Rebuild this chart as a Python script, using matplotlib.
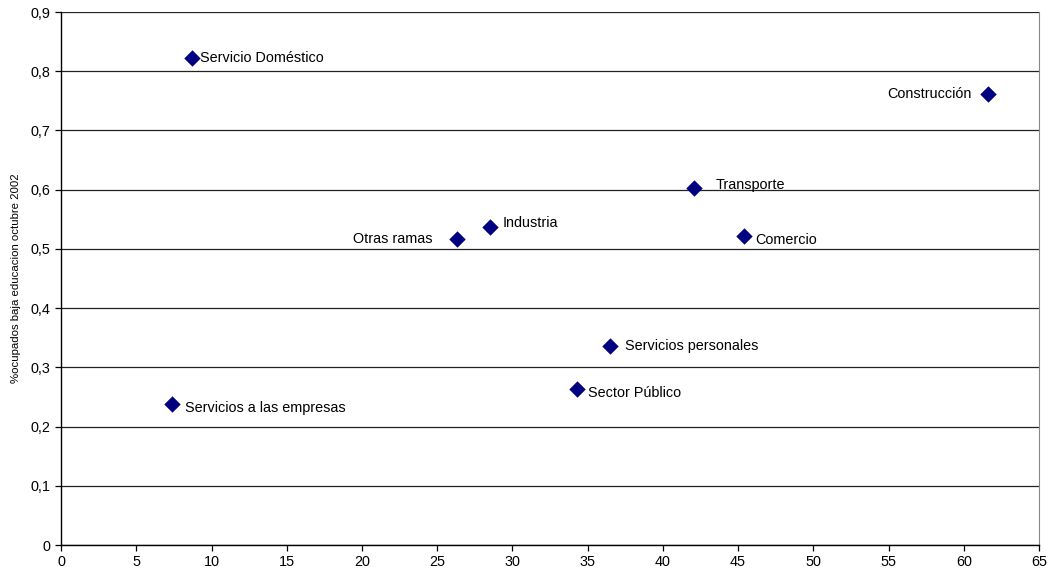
import matplotlib
matplotlib.use("Agg")
import matplotlib.pyplot as plt
from matplotlib.ticker import FuncFormatter, MultipleLocator

plt.rcParams['font.family'] = ['Liberation Sans', 'DejaVu Sans']

# Sector data: share of employment (x) vs share of low-education workers (y)
sectors = ["Servicio Doméstico", "Construcción", "Transporte", "Industria",
           "Otras ramas", "Comercio", "Servicios personales", "Sector Público",
           "Servicios a las empresas"]
x_vals = [8.7, 61.6, 42.1, 28.5, 26.3, 45.4, 36.5, 34.3, 7.4]
y_vals = [0.822, 0.762, 0.603, 0.537, 0.517, 0.522, 0.336, 0.263, 0.238]

# label offsets (points) and alignment per sector
label_style = {
    "Servicio Doméstico": ((5.5, 0), "left"),
    "Construcción": ((-12, 0), "right"),
    "Transporte": ((15, 2), "left"),
    "Industria": ((9, 3), "left"),
    "Otras ramas": ((-17.5, 0), "right"),
    "Comercio": ((8, -3), "left"),
    "Servicios personales": ((10.5, 0), "left"),
    "Sector Público": ((7.5, -3), "left"),
    "Servicios a las empresas": ((9, -3), "left"),
}

fig = plt.figure(figsize=(10.49, 5.72), dpi=100)
ax = fig.add_axes([0.0582, 0.0472, 0.9323, 0.9318])

ax.set_xlim(0, 65)
ax.set_ylim(0, 0.9)
ax.xaxis.set_major_locator(MultipleLocator(5))
ax.yaxis.set_major_locator(MultipleLocator(0.1))

def comma_fmt(v, pos):
    if abs(v) < 1e-9:
        return "0"
    return f"{v:.1f}".replace(".", ",")

ax.yaxis.set_major_formatter(FuncFormatter(comma_fmt))

ax.grid(axis='y', color='#222222', linewidth=0.9, zorder=0)
ax.set_axisbelow(True)

ax.scatter(x_vals, y_vals, marker='D', s=70, color='#000080', zorder=3,
           linewidths=0)

for name, xv, yv in zip(sectors, x_vals, y_vals):
    off, ha = label_style[name]
    ax.annotate(name, (xv, yv), xytext=off, textcoords='offset points',
                ha=ha, va='center', fontsize=10.4, color='black')

ax.spines['top'].set_visible(False)
ax.spines['right'].set_color('#888888')
ax.spines['left'].set_color('black')
ax.spines['bottom'].set_color('black')
for side in ('left', 'bottom'):
    ax.spines[side].set_linewidth(1.0)

ax.tick_params(axis='both', direction='out', length=4, width=0.9,
               labelsize=10.4, colors='black')

ax.set_ylabel("%ocupados baja educacion octubre 2002", fontsize=8.2)
ax.yaxis.set_label_coords(-0.041, 0.5)

fig.savefig("out.png", dpi=100)
